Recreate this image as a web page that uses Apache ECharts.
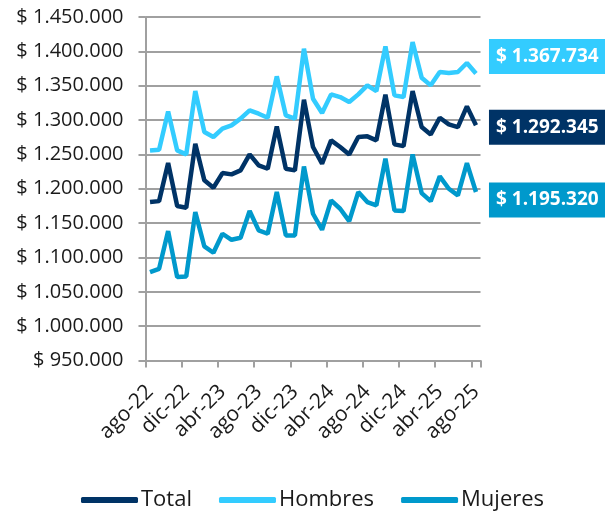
<!DOCTYPE html>
<html>
<head>
<meta charset="utf-8">
<script src="https://cdn.jsdelivr.net/npm/echarts@6/dist/echarts.min.js"></script>
<style>
  html, body { margin: 0; padding: 0; background: #fff; }
  #chart { width: 605px; height: 512px; }
</style>
</head>
<body>
<div id="chart"></div>
<script>
const months = [
  "ago-22", "sep-22", "oct-22", "nov-22", "dic-22", "ene-23", "feb-23", "mar-23",
  "abr-23", "may-23", "jun-23", "jul-23", "ago-23", "sep-23", "oct-23", "nov-23",
  "dic-23", "ene-24", "feb-24", "mar-24", "abr-24", "may-24", "jun-24", "jul-24",
  "ago-24", "sep-24", "oct-24", "nov-24", "dic-24", "ene-25", "feb-25", "mar-25",
  "abr-25", "may-25", "jun-25", "jul-25", "ago-25"
];

const total = [
  1180600, 1182000, 1237400, 1175000, 1172400, 1265500, 1212200, 1201500,
  1222800, 1220900, 1226700, 1250000, 1234000, 1229100, 1290800, 1229100,
  1226700, 1329600, 1260700, 1236400, 1270400, 1260700, 1250000, 1275300,
  1276300, 1270400, 1336900, 1264600, 1262100, 1342200, 1289800, 1279100,
  1303400, 1293700, 1289800, 1319900, 1292345
];

const hombres = [
  1255800, 1256800, 1312600, 1255800, 1250000, 1342200, 1282500, 1275300,
  1287400, 1292200, 1302000, 1314100, 1309200, 1303400, 1363600, 1306800,
  1302000, 1403900, 1331100, 1310200, 1337400, 1333500, 1326200, 1337400,
  1350500, 1342200, 1407300, 1335900, 1333500, 1413600, 1361700, 1350500,
  1369900, 1368500, 1369900, 1383000, 1367734
];

const mujeres = [
  1078700, 1083500, 1138400, 1071400, 1072400, 1166000, 1116000, 1106800,
  1134500, 1125700, 1128700, 1167500, 1139400, 1134500, 1195200, 1132100,
  1132100, 1232500, 1163600, 1140300, 1183000, 1170900, 1152900, 1195200,
  1180600, 1175800, 1243700, 1168500, 1167500, 1250000, 1193700, 1182000,
  1218000, 1200000, 1190300, 1237400, 1195320
];

const colors = {
  total: "#003366",
  hombres: "#33ccff",
  mujeres: "#0099cc",
};

function money(v) {
  return "$ " + Math.round(v).toString().replace(/\B(?=(\d{3})+(?!\d))/g, ".");
}

const chart = echarts.init(document.getElementById("chart"));

function makeSeries(name, data, color, dy) {
  return {
    name: name,
    type: "line",
    data: data,
    symbol: "none",
    lineStyle: { width: 4.5, color: color },
    itemStyle: { color: color },
    endLabel: {
      show: true,
      distance: 13,
      offset: [0, dy],
      formatter: (p) => money(p.value),
      backgroundColor: color,
      color: "#fff",
      fontFamily: "Open Sans",
      fontWeight: "bold",
      fontSize: 19,
      lineHeight: 19,
      padding: [8, 7, 8, 7],
    },
  };
}

const option = {
  animation: false,
  textStyle: { fontFamily: "Open Sans" },
  grid: {
    left: 145.5,
    right: 124.5,
    top: 17,
    bottom: 151.5,
    containLabel: false,
  },
  legend: {
    left: 76,
    top: 484,
    icon: "roundRect",
    itemWidth: 57,
    itemHeight: 6,
    itemGap: 27,
    textStyle: { fontSize: 22, color: "#1a1a1a", fontFamily: "Open Sans", padding: [0, 0, 0, -2] },
    data: ["Total", "Hombres", "Mujeres"],
  },
  xAxis: {
    type: "category",
    data: months,
    boundaryGap: true,
    axisLine: { show: true, lineStyle: { color: "#a0a0a0", width: 2 } },
    axisTick: {
      show: true,
      interval: 3,
      alignWithLabel: false,
      length: 7,
      lineStyle: { color: "#a0a0a0", width: 2 },
    },
    axisLabel: {
      interval: 3,
      rotate: 45,
      margin: 28,
      fontSize: 21,
      color: "#1a1a1a",
      fontFamily: "Open Sans",
    },
  },
  yAxis: {
    type: "value",
    min: 950000,
    max: 1450000,
    interval: 50000,
    axisLine: { show: true, lineStyle: { color: "#a0a0a0", width: 2 } },
    axisTick: { show: true, length: 7, lineStyle: { color: "#a0a0a0", width: 2 } },
    splitLine: { show: true, lineStyle: { color: "#a0a0a0", width: 2 } },
    axisLabel: {
      margin: 22,
      fontSize: 20,
      color: "#1a1a1a",
      fontFamily: "Open Sans",
      formatter: money,
    },
  },
  series: [
    makeSeries("Total", total, colors.total, 2),
    makeSeries("Hombres", hombres, colors.hombres, -17),
    makeSeries("Mujeres", mujeres, colors.mujeres, 8),
  ],
};

chart.setOption(option);
</script>
</body>
</html>
